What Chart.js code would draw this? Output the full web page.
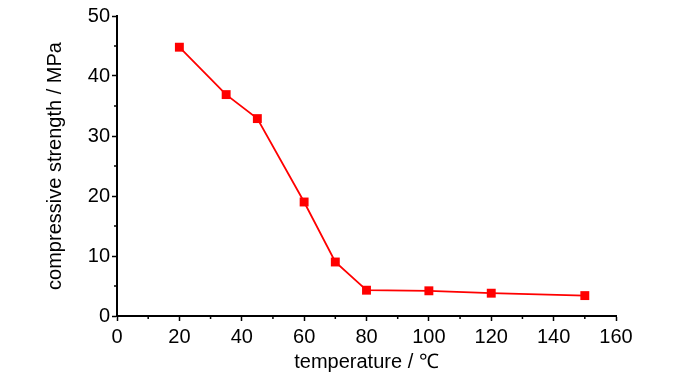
<!DOCTYPE html>
<html>
<head>
<meta charset="utf-8">
<script src="https://cdn.jsdelivr.net/npm/chart.js@4.4.1/dist/chart.umd.min.js"></script>
<style>
  html, body { margin: 0; padding: 0; background: #fff; }
  #wrap { width: 700px; height: 374px; }
</style>
</head>
<body>
<div id="wrap"><canvas id="strengthChart" width="700" height="374"></canvas></div>
<script>
const temperatures = [20, 35, 45, 60, 70, 80, 100, 120, 150];
const strengths = [44.8, 36.9, 32.9, 19.0, 9.0, 4.3, 4.2, 3.8, 3.4];
const xTicks = [0, 20, 40, 60, 80, 100, 120, 140, 160];
const yTicks = [0, 10, 20, 30, 40, 50];

const fontFamily = "'Liberation Sans', Arial, sans-serif";

// малые деления рисуем сами, по шкалам Chart.js
const minorTicks = {
    id: 'minorTicks',
    afterDraw(chart) {
        const ctx = chart.ctx;
        const x = chart.scales.x;
        const y = chart.scales.y;
        ctx.save();
        ctx.strokeStyle = '#000';
        ctx.lineWidth = 1.5;
        ctx.beginPath();
        for (let v = 10; v < 160; v += 20) {
            const px = x.getPixelForValue(v);
            ctx.moveTo(px, x.top);
            ctx.lineTo(px, x.top + 3);
        }
        for (let v = 5; v < 50; v += 10) {
            const py = y.getPixelForValue(v);
            ctx.moveTo(y.right, py);
            ctx.lineTo(y.right - 3, py);
        }
        ctx.stroke();
        ctx.restore();
    }
};

const ctx = document.getElementById('strengthChart').getContext('2d');
new Chart(ctx, {
    type: 'line',
    data: {
        datasets: [{
            data: temperatures.map((t, i) => ({ x: t, y: strengths[i] })),
            borderColor: '#ff0000',
            backgroundColor: '#ff0000',
            borderWidth: 1.8,
            pointStyle: 'rect',
            pointRadius: 6.3,
            pointBorderWidth: 0,
            pointHoverRadius: 6.3,
            tension: 0
        }]
    },
    options: {
        responsive: false,
        animation: false,
        events: [],
        layout: { padding: { left: 0, right: 84, top: 16, bottom: 0 } },
        plugins: {
            legend: { display: false },
            tooltip: { enabled: false }
        },
        scales: {
            x: {
                type: 'linear',
                min: 0,
                max: 160,
                afterBuildTicks: (scale) => { scale.ticks = xTicks.map(v => ({ value: v })); },
                ticks: {
                    color: '#000',
                    font: { family: fontFamily, size: 20 },
                    padding: 4,
                    maxRotation: 0,
                    autoSkip: false
                },
                grid: {
                    drawOnChartArea: false,
                    drawTicks: true,
                    tickLength: 5,
                    tickColor: '#000',
                    tickWidth: 1.5
                },
                border: { color: '#000', width: 2 },
                title: {
                    display: true,
                    text: 'temperature / ℃',
                    color: '#000',
                    font: { family: fontFamily, size: 20 },
                    padding: { top: 4, bottom: 0 }
                },
                afterFit: (scale) => { scale.height = 58; }
            },
            y: {
                type: 'linear',
                min: 0,
                max: 50,
                afterBuildTicks: (scale) => { scale.ticks = yTicks.map(v => ({ value: v })); },
                ticks: {
                    color: '#000',
                    font: { family: fontFamily, size: 20 },
                    padding: 2
                },
                grid: {
                    drawOnChartArea: false,
                    drawTicks: true,
                    tickLength: 5,
                    tickColor: '#000',
                    tickWidth: 1.5
                },
                border: { color: '#000', width: 2 },
                title: {
                    display: true,
                    text: 'compressive strength / MPa',
                    color: '#000',
                    font: { family: fontFamily, size: 20 },
                    padding: { top: 43, bottom: 0 }
                },
                afterFit: (scale) => { scale.width = 117; }
            }
        }
    },
    plugins: [minorTicks]
});
</script>
</body>
</html>
